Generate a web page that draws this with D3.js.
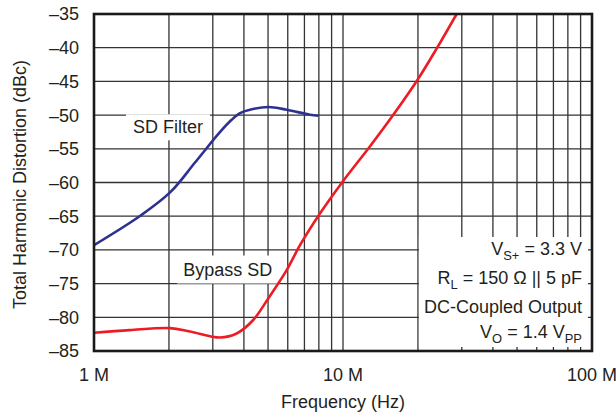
<!DOCTYPE html>
<html><head><meta charset="utf-8">
<script src="https://cdn.jsdelivr.net/npm/d3@7"></script>
<style>body{margin:0;background:#fff}svg{display:block}text{font-family:"Liberation Sans",Arial,sans-serif;fill:#231f20}</style>
</head><body>
<svg id="c" width="616" height="417"></svg>
<script>
// Data (frequency in Hz, THD in dBc)
const sdFilterFreq = [1e6, 1.54e6, 2.03e6, 2.55e6, 3.21e6, 3.57e6, 3.86e6, 4.23e6, 5.01e6, 5.94e6, 7.37e6, 7.96e6];
const sdFilterThd  = [-69.3, -64.9, -61.4, -57.0, -52.5, -50.7, -49.7, -49.2, -48.8, -49.2, -49.95, -50.1];
const bypassFreq = [1e6, 1.39e6, 2.02e6, 2.43e6, 3.21e6, 3.74e6, 4.36e6, 5.01e6, 5.94e6, 6.72e6, 8.08e6, 10e6, 12.8e6, 15.9e6, 19.9e6, 23.8e6, 28.6e6];
const bypassThd  = [-82.3, -81.9, -81.6, -82.1, -83.0, -82.4, -80.4, -77.2, -73.0, -69.3, -64.6, -59.8, -54.7, -50.0, -44.8, -40.1, -35.0];
const yTicks = [-35, -40, -45, -50, -55, -60, -65, -70, -75, -80, -85];
const xTickVals = [1e6, 1e7, 1e8];
const xTickLabels = ["1 M", "10 M", "100 M"];

const svg = d3.select("#c");
const L = 94, R = 592, T = 14, B = 351;
const x = d3.scaleLog().domain([1e6, 1e8]).range([L, R]);
const y = d3.scaleLinear().domain([-85, -35]).range([B, T]);
const FS = 18;

// grid
const minor = [];
for (let d = 1e6; d < 1e8; d *= 10) for (let k = 1; k <= 9; k++) minor.push(d * k);
minor.push(1e8);
const g = svg.append("g");
g.selectAll("line.v").data(minor).join("line")
  .attr("x1", d => x(d)).attr("x2", d => x(d)).attr("y1", T).attr("y2", B)
  .attr("stroke", "#333").attr("stroke-width", 1.3);
g.selectAll("line.h").data(yTicks).join("line")
  .attr("x1", L).attr("x2", R).attr("y1", d => y(d)).attr("y2", d => y(d))
  .attr("stroke", "#333").attr("stroke-width", 1.3);

// tick labels
svg.selectAll("text.yt").data(yTicks).join("text")
  .attr("x", 79).attr("y", d => y(d)).attr("dy", "0.36em").attr("text-anchor", "end")
  .attr("font-size", FS).text(d => "\u2013" + Math.abs(d));
svg.selectAll("text.xt").data(xTickVals).join("text")
  .attr("x", d => x(d)).attr("y", 381).attr("text-anchor", "middle")
  .attr("font-size", FS).text((d, i) => xTickLabels[i]);

svg.append("text").attr("x", x(1e7)).attr("y", 408).attr("text-anchor", "middle")
  .attr("font-size", FS).text("Frequency (Hz)");
svg.append("text").attr("transform", `translate(26,${(T + B) / 2 + 2}) rotate(-90)`)
  .attr("text-anchor", "middle").attr("font-size", FS).text("Total Harmonic Distortion (dBc)");

// label helper with white box
function label(txt, xv, yv, pad) {
  const t = svg.append("text").attr("x", x(xv)).attr("y", y(yv)).attr("font-size", FS).text(txt);
  const bb = t.node().getBBox();
  svg.insert("rect", "text").attr("x", bb.x - pad[0]).attr("y", bb.y - pad[1])
    .attr("width", bb.width + pad[0] * 2).attr("height", bb.height + pad[1] * 2).attr("fill", "#fff");
  t.raise();
}

// annotation box
const ann = svg.append("g");
const lines = [
  [["V", 0], ["S+", 1], [" = 3.3 V", 0]],
  [["R", 0], ["L", 1], [" = 150 \u03A9 || 5 pF", 0]],
  [["DC-Coupled Output", 0]],
  [["V", 0], ["O", 1], [" = 1.4 V", 0], ["PP", 1]]
];
const baselines = [255, 284, 313, 338];
lines.forEach((parts, i) => {
  const t = ann.append("text").attr("x", 582).attr("y", baselines[i]).attr("text-anchor", "end").attr("font-size", FS);
  let sub = false;
  parts.forEach(([s, isSub]) => {
    const ts = t.append("tspan").text(s);
    if (isSub && !sub) { ts.attr("dy", 5).attr("font-size", FS * 0.72); sub = true; }
    else if (!isSub && sub) { ts.attr("dy", -5); sub = false; }
    else if (isSub) ts.attr("font-size", FS * 0.72);
  });
});
const abb = ann.node().getBBox();
ann.insert("rect", "text").attr("x", abb.x - 5).attr("y", 237)
  .attr("width", (R - 4) - (abb.x - 5)).attr("height", (B - 4) - 237).attr("fill", "#fff");

// curves
const line = d3.line().x(d => x(d[0])).y(d => y(d[1])).curve(d3.curveCatmullRom.alpha(0.5));
svg.append("clipPath").attr("id", "clip").append("rect").attr("x", L).attr("y", T).attr("width", R - L).attr("height", B - T);

label("SD Filter", 1.434e6, -52.7, [7, 3]);
label("Bypass SD", 2.28e6, -73.8, [6, 4]);

const cg = svg.append("g").attr("clip-path", "url(#clip)");
cg.append("path").datum(d3.zip(sdFilterFreq, sdFilterThd)).attr("d", line)
  .attr("fill", "none").attr("stroke", "#2e3192").attr("stroke-width", 2.6);
cg.append("path").datum(d3.zip(bypassFreq, bypassThd)).attr("d", line)
  .attr("fill", "none").attr("stroke", "#ed1c24").attr("stroke-width", 2.6);

// frame
svg.append("rect").attr("x", L).attr("y", T).attr("width", R - L).attr("height", B - T)
  .attr("fill", "none").attr("stroke", "#1a1a1a").attr("stroke-width", 2.6);
</script>
</body></html>
